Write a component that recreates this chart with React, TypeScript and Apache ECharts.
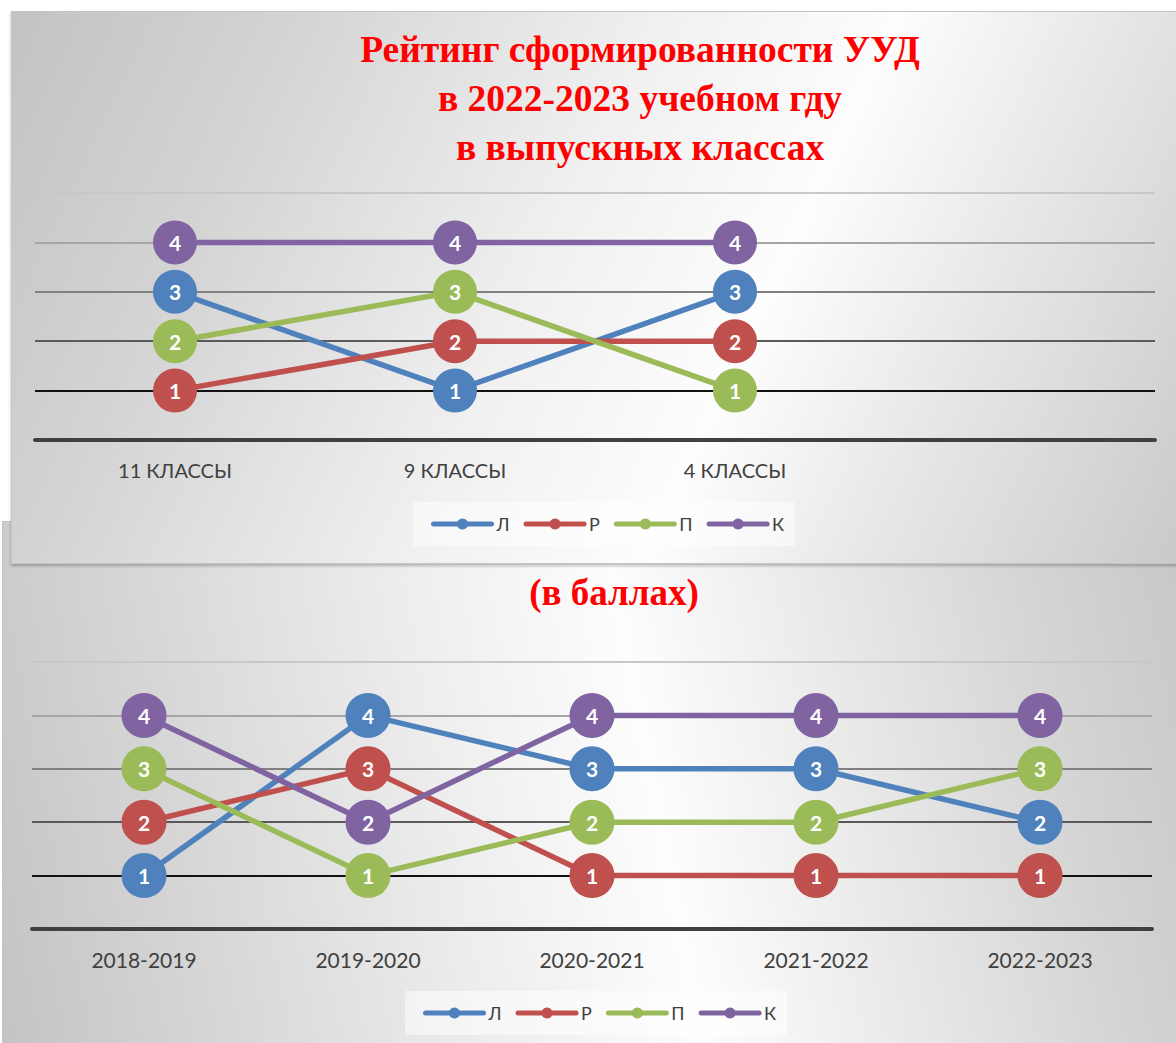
import React, { useEffect, useRef } from 'react';
import * as echarts from 'echarts';

// ---------- data ----------
const seriesNames = ['Л', 'Р', 'П', 'К'];
const seriesColors = ['#4F81BD', '#C0504D', '#9BBB59', '#8064A2'];

const topTitleLines = ['Рейтинг сформированности УУД', 'в 2022-2023 учебном гду', 'в выпускных классах'];
const topCategories = ['11 КЛАССЫ', '9 КЛАССЫ', '4 КЛАССЫ', ''];
const topL = [3, 1, 3];
const topR = [1, 2, 2];
const topP = [2, 3, 1];
const topK = [4, 4, 4];

const bottomTitleLines = ['(в баллах)'];
const bottomCategories = ['2018-2019', '2019-2020', '2020-2021', '2021-2022', '2022-2023'];
const bottomL = [1, 4, 3, 3, 2];
const bottomR = [2, 3, 1, 1, 1];
const bottomP = [3, 1, 2, 2, 3];
const bottomK = [4, 2, 4, 4, 4];

const yMin = 0;
const yMax = 5;
const yInterval = 1;
const splitColors = ['#404040', '#111111', '#5a5a5a', '#808080', '#a6a6a6', '#c8c8c8'];

type Cfg = {
  categories: string[];
  values: number[][];
  title: string[];
  titleX: number;
  titleY: number;
  titleLH: number;
  titleSize: number;
  grid: { left: number; top: number; width: number; height: number };
  legendLeft: number;
  legendTop: number;
  symbolSize: number;
  axisFont: number;
};

function buildOption(cfg: Cfg): any {
  return {
    animation: false,
    grid: { ...cfg.grid, containLabel: false },
    graphic: [
      {
        type: 'text',
        x: cfg.titleX,
        y: cfg.titleY,
        z: 10,
        style: {
          text: cfg.title.join('\n'),
          fill: '#ff0000',
          fontFamily: '"Liberation Serif", "Times New Roman", serif',
          fontWeight: 'bold',
          fontSize: cfg.titleSize,
          lineHeight: cfg.titleLH,
          align: 'center',
          verticalAlign: 'top',
        },
      },
    ],
    legend: {
      data: seriesNames,
      left: cfg.legendLeft,
      top: cfg.legendTop,
      itemWidth: 58,
      itemHeight: 14,
      itemGap: 14,
      padding: [13, 11, 13, 18],
      backgroundColor: 'rgba(255,255,255,0.5)',
      lineStyle: { width: 5, cap: 'round' },
      textStyle: { fontFamily: 'Lato', fontSize: 18, color: '#404040' },
    },
    xAxis: {
      type: 'category',
      data: cfg.categories,
      boundaryGap: true,
      axisTick: { show: false },
      axisLine: { lineStyle: { color: '#404040', width: 4 } },
      axisLabel: { color: '#404040', fontFamily: 'Lato', fontSize: cfg.axisFont, margin: 20 },
      splitLine: { show: false },
    },
    yAxis: {
      type: 'value',
      min: yMin,
      max: yMax,
      interval: yInterval,
      axisLabel: { show: false },
      axisLine: { show: false },
      axisTick: { show: false },
      splitLine: {
        show: true,
        lineStyle: {
          color: splitColors,
          width: 1.8,
        },
      },
    },
    series: seriesNames.map((name, i) => ({
      name,
      type: 'line',
      data: cfg.values[i],
      symbol: 'circle',
      symbolSize: cfg.symbolSize,
      itemStyle: { color: seriesColors[i] },
      lineStyle: { color: seriesColors[i], width: 5.5, cap: 'round' },
      label: {
        show: true,
        position: 'inside',
        color: '#ffffff',
        fontFamily: 'Lato',
        fontWeight: 'bold',
        fontSize: 21,
      },
      emphasis: { disabled: true },
    })),
  };
}

function ChartPanel({ option, style }: { option: any; style: React.CSSProperties }) {
  const ref = useRef<HTMLDivElement>(null);
  useEffect(() => {
    const chart = echarts.init(ref.current as HTMLDivElement, undefined, { renderer: 'svg' });
    chart.setOption(option);
    return () => chart.dispose();
  }, []);
  return (
    <div style={style}>
      <div ref={ref} style={{ width: '100%', height: '100%' }} />
    </div>
  );
}

export default function App() {
  const topOption = buildOption({
    categories: topCategories,
    values: [topL, topR, topP, topK],
    title: topTitleLines,
    titleX: 628,
    titleY: 13,
    titleLH: 49,
    titleSize: 37.5,
    grid: { left: 23, top: 181, width: 1120, height: 247 },
    legendLeft: 401,
    legendTop: 490,
    symbolSize: 44,
    axisFont: 20,
  });
  const bottomOption = buildOption({
    categories: bottomCategories,
    values: [bottomL, bottomR, bottomP, bottomK],
    title: bottomTitleLines,
    titleX: 611,
    titleY: 47,
    titleLH: 47,
    titleSize: 37,
    grid: { left: 29, top: 140, width: 1120, height: 267 },
    legendLeft: 402,
    legendTop: 469,
    symbolSize: 45,
    axisFont: 21,
  });

  return (
    <div
      style={{
        position: 'absolute',
        left: 0,
        top: 0,
        width: 1176,
        height: 1043,
        overflow: 'hidden',
        background: '#ffffff',
      }}
    >
      <ChartPanel
        option={bottomOption}
        style={{
          position: 'absolute',
          left: 2,
          top: 521,
          width: 1174,
          height: 522,
          boxSizing: 'border-box',
          borderLeft: '1px solid #c4c4c4',
          borderTop: '1px solid #c4c4c4',
          background:
            'linear-gradient(79deg, #c4c4c4 0%, #d4d4d4 15%, #ededed 38%, #fdfdfd 55%, #e8e8e8 72%, #d4d4d4 88%, #c8c8c8 100%)',
          zIndex: 1,
        }}
      />
      <ChartPanel
        option={topOption}
        style={{
          position: 'absolute',
          left: 11,
          top: 11,
          width: 1180,
          height: 553,
          boxSizing: 'border-box',
          border: '1px solid #c4c4c4',
          boxShadow: '0 2px 3px rgba(0,0,0,0.25)',
          background:
            'linear-gradient(115deg, #c3c3c3 0%, #d3d3d3 19%, #f0f0f0 45%, #fdfdfd 62%, #e6e6e6 78%, #d6d6d6 90%, #c8c8c8 100%)',
          zIndex: 2,
        }}
      />
    </div>
  );
}
